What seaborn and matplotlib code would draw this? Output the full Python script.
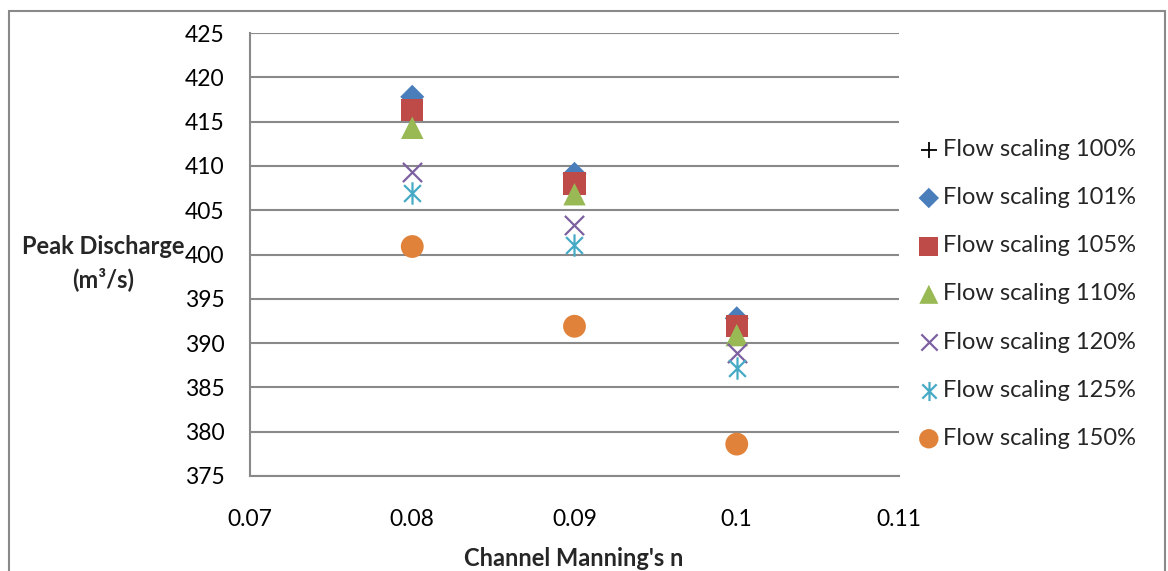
import numpy as np
import pandas as pd
import seaborn as sns
from matplotlib import pyplot as plt
from matplotlib.path import Path
from matplotlib.patches import Rectangle

# data
manning_n = [0.08, 0.09, 0.1]
flow_100 = [417.8, 409.1, 392.8]
flow_101 = [417.8, 409.1, 392.8]
flow_105 = [416.3, 408.0, 391.9]
flow_110 = [414.3, 406.8, 390.9]
flow_120 = [409.3, 403.3, 388.9]
flow_125 = [406.9, 401.1, 387.2]
flow_150 = [400.9, 391.9, 378.6]
labels = ["Flow scaling 100%", "Flow scaling 101%", "Flow scaling 105%",
          "Flow scaling 110%", "Flow scaling 120%", "Flow scaling 125%",
          "Flow scaling 150%"]

sns.set_style("white")
plt.rcParams['font.family'] = ['Lato', 'DejaVu Sans']

# excel style asterisk: vertical bar plus an x
asterisk = Path([(0, -1), (0, 1), (-0.75, -0.75), (0.75, 0.75), (-0.75, 0.75), (0.75, -0.75)],
                [Path.MOVETO, Path.LINETO, Path.MOVETO, Path.LINETO, Path.MOVETO, Path.LINETO])

series = [flow_100, flow_101, flow_105, flow_110, flow_120, flow_125, flow_150]
styles = [
    dict(marker="+", color="black", s=170, linewidth=1.3),
    dict(marker="D", color="#4A7EBB", s=150, edgecolor="none"),
    dict(marker="s", color="#BE4B48", s=260, edgecolor="none"),
    dict(marker="^", color="#98B954", s=260, edgecolor="none"),
    dict(marker="x", color="#7D60A0", s=190, linewidth=1.6),
    dict(marker=asterisk, color="#46AAC5", s=260, linewidth=1.6, edgecolor="#46AAC5"),
    dict(marker="o", color="#E0823A", s=270, edgecolor="none"),
]

fs = 16.5
fig = plt.figure(figsize=(11.68, 5.71), dpi=100)
ax = fig.add_axes([250 / 1168, 1 - 476 / 571, 649 / 1168, 443 / 571])

for vals, lab, st in zip(series, labels, styles):
    df = pd.DataFrame({"n": manning_n, "q": vals})
    sns.scatterplot(data=df, x="n", y="q", ax=ax, label=lab, zorder=3, **st)

ax.set_xlim(0.07, 0.11)
ax.set_ylim(375, 425)
ax.set_xticks(np.arange(0.07, 0.111, 0.01))
ax.set_xticklabels(["0.07", "0.08", "0.09", "0.1", "0.11"])
ax.set_yticks(np.arange(375, 426, 5))
ax.yaxis.grid(True, color="#898989", linewidth=1.5)
ax.xaxis.grid(False)
for side in ["top", "right"]:
    ax.spines[side].set_visible(False)
for side in ["left", "bottom"]:
    ax.spines[side].set_color("#898989")
    ax.spines[side].set_linewidth(1.5)
ax.tick_params(axis="both", direction="out", length=5.8, width=1.5, color="#898989",
               labelsize=fs, labelcolor="black")
ax.tick_params(axis="y", pad=12.5)
ax.tick_params(axis="x", pad=18)
ax.set_xlabel("")
ax.set_ylabel("")

fig.text(103 / 1168, 1 - 263 / 571, "Peak Discharge\n(m³/s)", ha="center", va="center",
         fontsize=17, fontweight="bold", linespacing=1.45)
fig.text(574 / 1168, 1 - 558 / 571, "Channel Manning's n", ha="center", va="center",
         fontsize=17, fontweight="bold")

ax.legend(loc="center left", bbox_to_anchor=((917 - 250) / 649, 1 - (294 - 33) / 443),
          frameon=False, fontsize=17, handlelength=1.0, handletextpad=0.1, markerscale=0.85,
          labelspacing=1.15, borderaxespad=0, borderpad=0, scatterpoints=1)

fig.patches.append(Rectangle((9 / 1168, -0.05), 1156 / 1168, 1 - 11 / 571 + 0.05,
                             transform=fig.transFigure, fill=False, edgecolor="#898989",
                             linewidth=1.5, clip_on=False))

fig.savefig("out.png", dpi=100)
